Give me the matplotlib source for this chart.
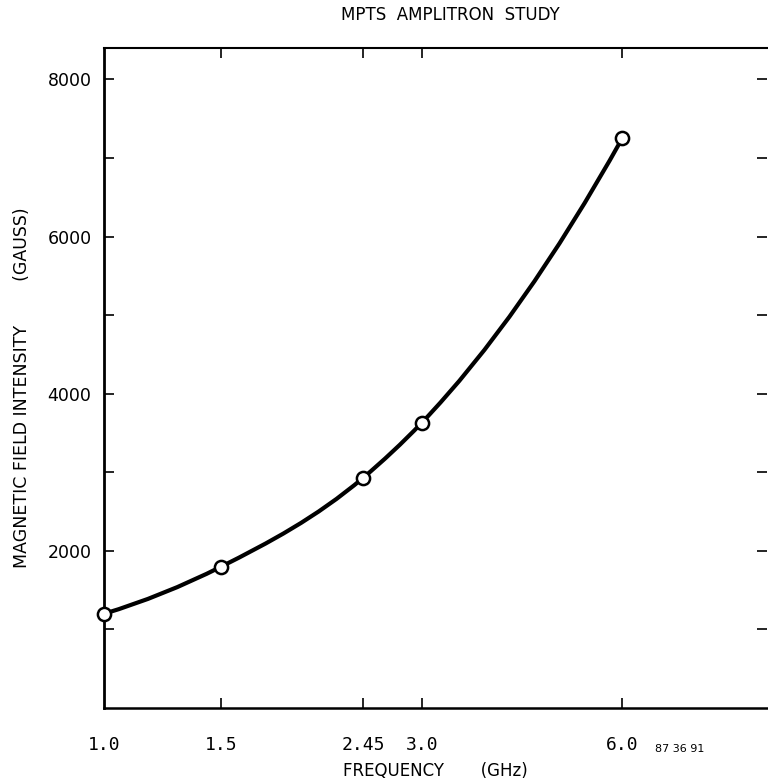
import numpy as np
import matplotlib
matplotlib.use("Agg")
import matplotlib.pyplot as plt
from matplotlib.path import Path
from matplotlib.patches import PathPatch

# data
freq_ghz = [1.0, 1.5, 2.45, 3.0, 6.0]
field_gauss = [1200, 1800, 2930, 3630, 7250]
freq_labels = ["1.0", "1.5", "2.45", "3.0", "6.0"]
y_major = [2000, 4000, 6000, 8000]
y_minor = [1000, 3000, 5000, 7000]

fig = plt.figure(figsize=(7.68, 7.79), dpi=100)
ax = fig.add_axes([0.1354, 0.0911, 0.8633, 0.8473])

ax.set_xscale("log")
ax.set_xlim(1.0, 9.9)
ax.set_ylim(0, 8400)

# smooth curve through the points (cubic hermite segments in log-x space)
u = np.log10(freq_ghz)
y = np.array(field_gauss, dtype=float)
sec = np.diff(y) / np.diff(u)
slope = np.empty_like(y)
for i in range(1, len(y) - 1):
    w1 = u[i + 1] - u[i]
    w0 = u[i] - u[i - 1]
    slope[i] = (sec[i - 1] * w1 + sec[i] * w0) / (w0 + w1)
slope[0] = 2 * sec[0] - slope[1]
slope[-1] = 2 * sec[-1] - slope[-2]
verts = [(freq_ghz[0], y[0])]
codes = [Path.MOVETO]
for i in range(len(y) - 1):
    du = (u[i + 1] - u[i]) / 3
    c1 = (10 ** (u[i] + du), y[i] + slope[i] * du)
    c2 = (10 ** (u[i + 1] - du), y[i + 1] - slope[i + 1] * du)
    verts += [c1, c2, (freq_ghz[i + 1], y[i + 1])]
    codes += [Path.CURVE4] * 3
ax.add_patch(PathPatch(Path(verts, codes), fill=False, lw=3.0, color="black",
                       capstyle="round", joinstyle="round", zorder=2))

ax.plot(freq_ghz, field_gauss, linestyle="none", marker="o", markersize=9.5,
        markerfacecolor="white", markeredgecolor="black", markeredgewidth=1.8,
        clip_on=False, zorder=3)

# axes frame
ax.spines["left"].set_linewidth(2.0)
ax.spines["bottom"].set_linewidth(1.8)
ax.spines["top"].set_linewidth(1.5)
ax.spines["right"].set_visible(False)

ax.set_xticks(freq_ghz)
ax.set_xticklabels(freq_labels, fontfamily="DejaVu Sans Mono", fontsize=13)
ax.xaxis.set_minor_locator(matplotlib.ticker.NullLocator())
ax.tick_params(axis="x", which="major", direction="in", length=7, width=1.2,
               top=True, bottom=True, pad=20)
ax.xaxis.get_major_ticks()[0].tick1line.set_visible(False)
ax.xaxis.get_major_ticks()[0].tick2line.set_visible(False)

ax.set_yticks(y_major)
ax.set_yticks(y_minor, minor=True)
ax.set_yticklabels([str(v) for v in y_major], fontsize=12.5)
ax.tick_params(axis="y", which="both", direction="in", length=7, width=1.2,
               left=True, right=True, pad=9)

ax.set_xlabel("FREQUENCY       (GHz)", fontsize=12, labelpad=6)
ax.set_ylabel("MAGNETIC FIELD INTENSITY        (GAUSS)", fontsize=12.5)
ax.yaxis.set_label_coords(-0.11, 0.485)
fig.text(0.586, 0.981, "MPTS  AMPLITRON  STUDY", ha="center", va="center", fontsize=12)
fig.text(0.885, 0.038, "87 36 91", ha="center", va="center", fontsize=8)

fig.savefig("out.png", dpi=100, facecolor="white")
